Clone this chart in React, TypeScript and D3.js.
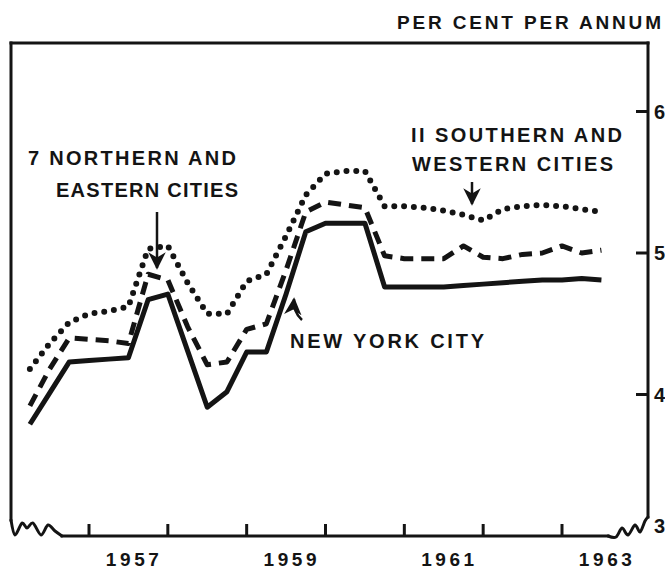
import React from 'react';
import * as d3 from 'd3';

// quarterly observations (decimal year)
const quarters = [
  1956.25, 1956.5, 1956.75, 1957.0, 1957.25, 1957.5, 1957.75, 1958.0, 1958.25, 1958.5,
  1958.75, 1959.0, 1959.25, 1959.5, 1959.75, 1960.0, 1960.25, 1960.5, 1960.75, 1961.0,
  1961.25, 1961.5, 1961.75, 1962.0, 1962.25, 1962.5, 1962.75, 1963.0, 1963.25, 1963.5,
];

// New York City (solid)
const newYork = [
  3.79, 4.01, 4.23, 4.24, 4.25, 4.26, 4.67, 4.71, 4.31, 3.91,
  4.02, 4.30, 4.30, 4.71, 5.15, 5.21, 5.21, 5.21, 4.76, 4.76,
  4.76, 4.76, 4.77, 4.78, 4.79, 4.80, 4.81, 4.81, 4.82, 4.81,
];

// 7 Northern and Eastern cities (dashed)
const northernEastern = [
  3.92, 4.18, 4.40, 4.39, 4.38, 4.36, 4.85, 4.81, 4.48, 4.21,
  4.23, 4.46, 4.50, 4.88, 5.29, 5.36, 5.34, 5.32, 4.98, 4.96,
  4.96, 4.96, 5.05, 4.97, 4.96, 4.99, 5.00, 5.05, 5.00, 5.02,
];

// 11 Southern and Western cities (dotted)
const southernWestern = [
  4.18, 4.36, 4.51, 4.57, 4.59, 4.62, 5.03, 5.05, 4.79, 4.57,
  4.57, 4.80, 4.85, 5.12, 5.41, 5.56, 5.58, 5.58, 5.33, 5.33,
  5.32, 5.30, 5.27, 5.23, 5.31, 5.33, 5.34, 5.33, 5.31, 5.29,
];

const yearTicks = [1957, 1958, 1959, 1960, 1961, 1962, 1963];
const yearLabels = ['1957', '1959', '1961', '1963'];
const valueTicks = [3, 4, 5, 6];

const INK = '#141414';
const FONT = "'Liberation Sans', Arial, sans-serif";

export default function App() {
  const x = d3.scaleLinear().domain([1957, 1963]).range([89, 562]);
  const y = d3.scaleLinear().domain([3, 6]).range([536, 111.5]);

  const left = 11;
  const right = 648;
  const top = 43;
  const bottom = y(3);

  const mk = (vals: number[]) =>
    d3
      .line<number>()
      .x((_, i) => x(quarters[i]))
      .y((d) => y(d))(vals) as string;

  // axis break squiggles
  const squiggle = d3.line<[number, number]>().curve(d3.curveCardinal.tension(0.1));
  const leftBreak: [number, number][] = [
    [left, bottom - 16], [left + 4, bottom - 1], [left + 11, bottom - 13], [left + 16, bottom - 8],
    [left + 22, bottom - 13], [left + 30, bottom - 1], [left + 37, bottom - 11], [left + 44, bottom - 5],
    [left + 51, bottom],
  ];
  const rightBreak: [number, number][] = [
    [right - 40, bottom], [right - 32, bottom + 1], [right - 26, bottom - 8], [right - 20, bottom - 1],
    [right - 13, bottom - 11], [right - 8, bottom - 4], [right - 3, bottom - 15], [right, bottom - 19],
  ];

  const textStyle = { fontFamily: FONT, fontWeight: 700, fill: INK } as const;

  return (
    <svg
      width={665}
      height={570}
      style={{ position: 'absolute', left: 0, top: 0, background: '#fff' }}
    >
      <defs>
        <marker id="ah" viewBox="0 0 10 10" refX="9" refY="5" markerWidth="7" markerHeight="7" orient="auto-start-reverse">
          <path d="M0,0 L10,5 L0,10 L3,5 Z" fill={INK} />
        </marker>
      </defs>

      {/* title */}
      <text x={661} y={29} textAnchor="end" fontSize={19} textLength={264} lengthAdjust="spacing" style={textStyle}>
        PER CENT PER ANNUM
      </text>

      {/* frame */}
      <g stroke={INK} strokeWidth={3} fill="none" strokeLinecap="square">
        <line x1={left} y1={top} x2={right} y2={top} />
        <line x1={left} y1={top} x2={left} y2={bottom - 16} />
        <line x1={right} y1={top} x2={right} y2={bottom - 19} />
        <line x1={left + 51} y1={bottom} x2={right - 40} y2={bottom} />
        <path d={squiggle(leftBreak) as string} strokeLinecap="round" strokeLinejoin="round" />
        <path d={squiggle(rightBreak) as string} strokeLinecap="round" strokeLinejoin="round" />
      </g>

      {/* x ticks */}
      <g stroke={INK} strokeWidth={3}>
        {yearTicks.map((t) => (
          <line key={t} x1={x(t)} x2={x(t)} y1={bottom} y2={bottom - 12} />
        ))}
      </g>
      {yearLabels.map((l) => (
        <text key={l} x={x(+l + 0.55)} y={566} textAnchor="middle" fontSize={19} textLength={53} lengthAdjust="spacing" style={textStyle}>
          {l}
        </text>
      ))}

      {/* y ticks (right side) */}
      <g stroke={INK} strokeWidth={3}>
        {valueTicks.filter((v) => v > 3).map((v) => (
          <line key={v} x1={right - 12} x2={right} y1={y(v)} y2={y(v)} />
        ))}
      </g>
      {valueTicks.map((v) => (
        <text key={v} x={654} y={v === 3 ? y(v) - 3 : y(v) + 7} fontSize={20} style={textStyle}>
          {v}
        </text>
      ))}

      {/* series */}
      <path d={mk(southernWestern)} fill="none" stroke={INK} strokeWidth={6} strokeDasharray="0 9.8" strokeLinecap="round" strokeLinejoin="round" />
      <path d={mk(northernEastern)} fill="none" stroke={INK} strokeWidth={5} strokeDasharray="13 8" strokeLinejoin="round" />
      <path d={mk(newYork)} fill="none" stroke={INK} strokeWidth={5} strokeLinejoin="round" />

      {/* annotations */}
      <text x={28} y={165} fontSize={20} textLength={208} lengthAdjust="spacing" style={textStyle}>
        7 NORTHERN AND
      </text>
      <text x={56} y={197} fontSize={20} textLength={182} lengthAdjust="spacing" style={textStyle}>
        EASTERN CITIES
      </text>
      <line x1={157} y1={212} x2={157} y2={268} stroke={INK} strokeWidth={2.5} markerEnd="url(#ah)" />

      <text x={411} y={142} fontSize={20} textLength={211} lengthAdjust="spacing" style={textStyle}>
        II SOUTHERN AND
      </text>
      <text x={412} y={171} fontSize={20} textLength={201} lengthAdjust="spacing" style={textStyle}>
        WESTERN CITIES
      </text>
      <line x1={472} y1={182} x2={472} y2={204} stroke={INK} strokeWidth={2.5} markerEnd="url(#ah)" />

      <text x={290} y={348} fontSize={20} textLength={194} lengthAdjust="spacing" style={textStyle}>
        NEW YORK CITY
      </text>
      <path d="M302,320 Q293,312 294,299" fill="none" stroke={INK} strokeWidth={2.5} markerEnd="url(#ah)" />
    </svg>
  );
}
